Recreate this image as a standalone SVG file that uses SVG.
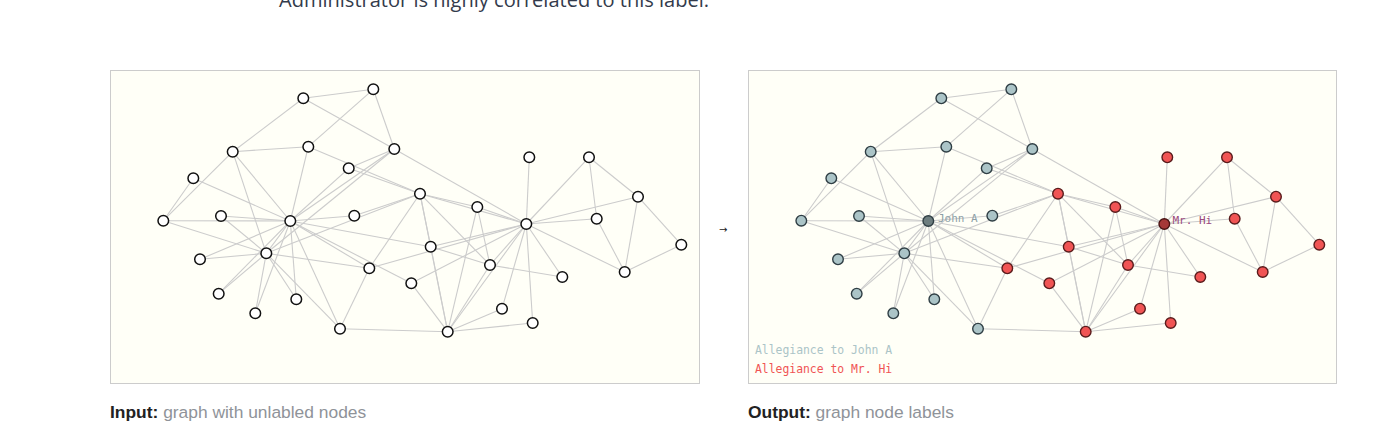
<svg xmlns="http://www.w3.org/2000/svg" width="1384" height="447" viewBox="0 0 1384 447">
<style>
.panel{fill:#fffff7;stroke:#cccccc;stroke-width:1}
.e line{stroke:#cccccc;stroke-width:1.1}
.nl{fill:#ffffff;stroke:#111111;stroke-width:1.5}
.nb{fill:#abc4c7;stroke:#2f3e44;stroke-width:1.4}
.nbh{fill:#6d7d7f;stroke:#2f3e44;stroke-width:1.4}
.nr{fill:#f05454;stroke:#5a1c1c;stroke-width:1.4}
.nrh{fill:#a53838;stroke:#4a1414;stroke-width:1.4}
.mono{font-family:"DejaVu Sans Mono","Liberation Mono",monospace;font-size:11px}
.leg{font-family:"DejaVu Sans Mono","Liberation Mono",monospace;font-size:11.4px}
.cap{font-family:"Liberation Sans",Arial,sans-serif;font-size:17.4px}
</style>
<rect width="1384" height="447" fill="#ffffff"/>
<text x="279" y="7" font-family="'Open Sans','Liberation Sans',sans-serif" font-size="20" fill="#333b4c" textLength="430" lengthAdjust="spacingAndGlyphs">Administrator is highly correlated to this label.</text>
<rect class="panel" x="110.5" y="70.5" width="589" height="313"/>
<rect class="panel" x="748.5" y="70.5" width="588" height="313"/>
<g id="connectors-input" class="e">
<line x1="526.3" y1="224" x2="447.7" y2="331.7"/><line x1="526.3" y1="224" x2="420" y2="193.7"/><line x1="526.3" y1="224" x2="490" y2="265"/><line x1="526.3" y1="224" x2="589" y2="157.3"/><line x1="526.3" y1="224" x2="624.7" y2="272"/><line x1="526.3" y1="224" x2="638" y2="196.7"/><line x1="526.3" y1="224" x2="477.3" y2="207"/><line x1="526.3" y1="224" x2="369.3" y2="268.3"/><line x1="526.3" y1="224" x2="596.7" y2="218.7"/><line x1="526.3" y1="224" x2="529.3" y2="157.3"/><line x1="526.3" y1="224" x2="562.3" y2="277"/><line x1="526.3" y1="224" x2="430.7" y2="246.7"/><line x1="526.3" y1="224" x2="502" y2="308.7"/><line x1="526.3" y1="224" x2="411.3" y2="283.3"/><line x1="526.3" y1="224" x2="532.7" y2="323"/><line x1="526.3" y1="224" x2="394.3" y2="149"/>
<line x1="447.7" y1="331.7" x2="420" y2="193.7"/><line x1="447.7" y1="331.7" x2="490" y2="265"/><line x1="447.7" y1="331.7" x2="477.3" y2="207"/><line x1="447.7" y1="331.7" x2="430.7" y2="246.7"/><line x1="447.7" y1="331.7" x2="502" y2="308.7"/><line x1="447.7" y1="331.7" x2="411.3" y2="283.3"/><line x1="447.7" y1="331.7" x2="532.7" y2="323"/><line x1="447.7" y1="331.7" x2="340" y2="328.7"/>
<line x1="420" y1="193.7" x2="490" y2="265"/><line x1="420" y1="193.7" x2="477.3" y2="207"/><line x1="420" y1="193.7" x2="369.3" y2="268.3"/><line x1="420" y1="193.7" x2="354.3" y2="215.7"/><line x1="420" y1="193.7" x2="430.7" y2="246.7"/><line x1="420" y1="193.7" x2="308.3" y2="146.7"/><line x1="420" y1="193.7" x2="348.7" y2="168.3"/><line x1="420" y1="193.7" x2="266.3" y2="253.3"/>
<line x1="490" y1="265" x2="477.3" y2="207"/><line x1="490" y1="265" x2="562.3" y2="277"/><line x1="490" y1="265" x2="430.7" y2="246.7"/>
<line x1="589" y1="157.3" x2="638" y2="196.7"/><line x1="589" y1="157.3" x2="596.7" y2="218.7"/><line x1="624.7" y1="272" x2="638" y2="196.7"/><line x1="624.7" y1="272" x2="596.7" y2="218.7"/><line x1="624.7" y1="272" x2="681.3" y2="244.7"/><line x1="638" y1="196.7" x2="681.3" y2="244.7"/>
<line x1="369.3" y1="268.3" x2="340" y2="328.7"/><line x1="369.3" y1="268.3" x2="266.3" y2="253.3"/><line x1="369.3" y1="268.3" x2="290.3" y2="221"/><line x1="354.3" y1="215.7" x2="290.3" y2="221"/><line x1="430.7" y1="246.7" x2="290.3" y2="221"/>
<line x1="200" y1="259.3" x2="266.3" y2="253.3"/><line x1="200" y1="259.3" x2="290.3" y2="221"/><line x1="218.7" y1="293.7" x2="266.3" y2="253.3"/><line x1="218.7" y1="293.7" x2="290.3" y2="221"/><line x1="255.3" y1="313.3" x2="266.3" y2="253.3"/><line x1="255.3" y1="313.3" x2="290.3" y2="221"/><line x1="296.3" y1="299.3" x2="266.3" y2="253.3"/><line x1="296.3" y1="299.3" x2="290.3" y2="221"/><line x1="221" y1="216" x2="266.3" y2="253.3"/><line x1="221" y1="216" x2="290.3" y2="221"/>
<line x1="411.3" y1="283.3" x2="290.3" y2="221"/>
<line x1="232.7" y1="151.7" x2="303.3" y2="98.3"/><line x1="232.7" y1="151.7" x2="308.3" y2="146.7"/><line x1="232.7" y1="151.7" x2="163.3" y2="220.7"/><line x1="232.7" y1="151.7" x2="266.3" y2="253.3"/><line x1="232.7" y1="151.7" x2="290.3" y2="221"/>
<line x1="373.3" y1="89.3" x2="303.3" y2="98.3"/><line x1="373.3" y1="89.3" x2="308.3" y2="146.7"/><line x1="373.3" y1="89.3" x2="394.3" y2="149"/><line x1="303.3" y1="98.3" x2="394.3" y2="149"/>
<line x1="193.3" y1="178.3" x2="163.3" y2="220.7"/><line x1="193.3" y1="178.3" x2="290.3" y2="221"/><line x1="308.3" y1="146.7" x2="290.3" y2="221"/><line x1="348.7" y1="168.3" x2="394.3" y2="149"/><line x1="348.7" y1="168.3" x2="290.3" y2="221"/>
<line x1="163.3" y1="220.7" x2="266.3" y2="253.3"/><line x1="163.3" y1="220.7" x2="290.3" y2="221"/><line x1="340" y1="328.7" x2="266.3" y2="253.3"/><line x1="340" y1="328.7" x2="290.3" y2="221"/><line x1="394.3" y1="149" x2="266.3" y2="253.3"/><line x1="394.3" y1="149" x2="290.3" y2="221"/><line x1="266.3" y1="253.3" x2="290.3" y2="221"/>
</g>
<g id="connectors-output" class="e" transform="translate(638,0)">
<line x1="526.3" y1="224" x2="447.7" y2="331.7"/><line x1="526.3" y1="224" x2="420" y2="193.7"/><line x1="526.3" y1="224" x2="490" y2="265"/><line x1="526.3" y1="224" x2="589" y2="157.3"/><line x1="526.3" y1="224" x2="624.7" y2="272"/><line x1="526.3" y1="224" x2="638" y2="196.7"/><line x1="526.3" y1="224" x2="477.3" y2="207"/><line x1="526.3" y1="224" x2="369.3" y2="268.3"/><line x1="526.3" y1="224" x2="596.7" y2="218.7"/><line x1="526.3" y1="224" x2="529.3" y2="157.3"/><line x1="526.3" y1="224" x2="562.3" y2="277"/><line x1="526.3" y1="224" x2="430.7" y2="246.7"/><line x1="526.3" y1="224" x2="502" y2="308.7"/><line x1="526.3" y1="224" x2="411.3" y2="283.3"/><line x1="526.3" y1="224" x2="532.7" y2="323"/><line x1="526.3" y1="224" x2="394.3" y2="149"/>
<line x1="447.7" y1="331.7" x2="420" y2="193.7"/><line x1="447.7" y1="331.7" x2="490" y2="265"/><line x1="447.7" y1="331.7" x2="477.3" y2="207"/><line x1="447.7" y1="331.7" x2="430.7" y2="246.7"/><line x1="447.7" y1="331.7" x2="502" y2="308.7"/><line x1="447.7" y1="331.7" x2="411.3" y2="283.3"/><line x1="447.7" y1="331.7" x2="532.7" y2="323"/><line x1="447.7" y1="331.7" x2="340" y2="328.7"/>
<line x1="420" y1="193.7" x2="490" y2="265"/><line x1="420" y1="193.7" x2="477.3" y2="207"/><line x1="420" y1="193.7" x2="369.3" y2="268.3"/><line x1="420" y1="193.7" x2="354.3" y2="215.7"/><line x1="420" y1="193.7" x2="430.7" y2="246.7"/><line x1="420" y1="193.7" x2="308.3" y2="146.7"/><line x1="420" y1="193.7" x2="348.7" y2="168.3"/><line x1="420" y1="193.7" x2="266.3" y2="253.3"/>
<line x1="490" y1="265" x2="477.3" y2="207"/><line x1="490" y1="265" x2="562.3" y2="277"/><line x1="490" y1="265" x2="430.7" y2="246.7"/>
<line x1="589" y1="157.3" x2="638" y2="196.7"/><line x1="589" y1="157.3" x2="596.7" y2="218.7"/><line x1="624.7" y1="272" x2="638" y2="196.7"/><line x1="624.7" y1="272" x2="596.7" y2="218.7"/><line x1="624.7" y1="272" x2="681.3" y2="244.7"/><line x1="638" y1="196.7" x2="681.3" y2="244.7"/>
<line x1="369.3" y1="268.3" x2="340" y2="328.7"/><line x1="369.3" y1="268.3" x2="266.3" y2="253.3"/><line x1="369.3" y1="268.3" x2="290.3" y2="221"/><line x1="354.3" y1="215.7" x2="290.3" y2="221"/><line x1="430.7" y1="246.7" x2="290.3" y2="221"/>
<line x1="200" y1="259.3" x2="266.3" y2="253.3"/><line x1="200" y1="259.3" x2="290.3" y2="221"/><line x1="218.7" y1="293.7" x2="266.3" y2="253.3"/><line x1="218.7" y1="293.7" x2="290.3" y2="221"/><line x1="255.3" y1="313.3" x2="266.3" y2="253.3"/><line x1="255.3" y1="313.3" x2="290.3" y2="221"/><line x1="296.3" y1="299.3" x2="266.3" y2="253.3"/><line x1="296.3" y1="299.3" x2="290.3" y2="221"/><line x1="221" y1="216" x2="266.3" y2="253.3"/><line x1="221" y1="216" x2="290.3" y2="221"/>
<line x1="411.3" y1="283.3" x2="290.3" y2="221"/>
<line x1="232.7" y1="151.7" x2="303.3" y2="98.3"/><line x1="232.7" y1="151.7" x2="308.3" y2="146.7"/><line x1="232.7" y1="151.7" x2="163.3" y2="220.7"/><line x1="232.7" y1="151.7" x2="266.3" y2="253.3"/><line x1="232.7" y1="151.7" x2="290.3" y2="221"/>
<line x1="373.3" y1="89.3" x2="303.3" y2="98.3"/><line x1="373.3" y1="89.3" x2="308.3" y2="146.7"/><line x1="373.3" y1="89.3" x2="394.3" y2="149"/><line x1="303.3" y1="98.3" x2="394.3" y2="149"/>
<line x1="193.3" y1="178.3" x2="163.3" y2="220.7"/><line x1="193.3" y1="178.3" x2="290.3" y2="221"/><line x1="308.3" y1="146.7" x2="290.3" y2="221"/><line x1="348.7" y1="168.3" x2="394.3" y2="149"/><line x1="348.7" y1="168.3" x2="290.3" y2="221"/>
<line x1="163.3" y1="220.7" x2="266.3" y2="253.3"/><line x1="163.3" y1="220.7" x2="290.3" y2="221"/><line x1="340" y1="328.7" x2="266.3" y2="253.3"/><line x1="340" y1="328.7" x2="290.3" y2="221"/><line x1="394.3" y1="149" x2="266.3" y2="253.3"/><line x1="394.3" y1="149" x2="290.3" y2="221"/><line x1="266.3" y1="253.3" x2="290.3" y2="221"/>
</g>
<g id="input-nodes">
<g id="in-0"><circle class="nl" cx="526.3" cy="224" r="5.3"/></g>
<g id="in-1"><circle class="nl" cx="447.7" cy="331.7" r="5.3"/></g>
<g id="in-2"><circle class="nl" cx="420" cy="193.7" r="5.3"/></g>
<g id="in-3"><circle class="nl" cx="490" cy="265" r="5.3"/></g>
<g id="in-4"><circle class="nl" cx="589" cy="157.3" r="5.3"/></g>
<g id="in-5"><circle class="nl" cx="624.7" cy="272" r="5.3"/></g>
<g id="in-6"><circle class="nl" cx="638" cy="196.7" r="5.3"/></g>
<g id="in-7"><circle class="nl" cx="477.3" cy="207" r="5.3"/></g>
<g id="in-8"><circle class="nl" cx="369.3" cy="268.3" r="5.3"/></g>
<g id="in-9"><circle class="nl" cx="354.3" cy="215.7" r="5.3"/></g>
<g id="in-10"><circle class="nl" cx="596.7" cy="218.7" r="5.3"/></g>
<g id="in-11"><circle class="nl" cx="529.3" cy="157.3" r="5.3"/></g>
<g id="in-12"><circle class="nl" cx="562.3" cy="277" r="5.3"/></g>
<g id="in-13"><circle class="nl" cx="430.7" cy="246.7" r="5.3"/></g>
<g id="in-14"><circle class="nl" cx="200" cy="259.3" r="5.3"/></g>
<g id="in-15"><circle class="nl" cx="218.7" cy="293.7" r="5.3"/></g>
<g id="in-16"><circle class="nl" cx="681.3" cy="244.7" r="5.3"/></g>
<g id="in-17"><circle class="nl" cx="502" cy="308.7" r="5.3"/></g>
<g id="in-18"><circle class="nl" cx="255.3" cy="313.3" r="5.3"/></g>
<g id="in-19"><circle class="nl" cx="411.3" cy="283.3" r="5.3"/></g>
<g id="in-20"><circle class="nl" cx="296.3" cy="299.3" r="5.3"/></g>
<g id="in-21"><circle class="nl" cx="532.7" cy="323" r="5.3"/></g>
<g id="in-22"><circle class="nl" cx="221" cy="216" r="5.3"/></g>
<g id="in-23"><circle class="nl" cx="232.7" cy="151.7" r="5.3"/></g>
<g id="in-24"><circle class="nl" cx="373.3" cy="89.3" r="5.3"/></g>
<g id="in-25"><circle class="nl" cx="303.3" cy="98.3" r="5.3"/></g>
<g id="in-26"><circle class="nl" cx="193.3" cy="178.3" r="5.3"/></g>
<g id="in-27"><circle class="nl" cx="308.3" cy="146.7" r="5.3"/></g>
<g id="in-28"><circle class="nl" cx="348.7" cy="168.3" r="5.3"/></g>
<g id="in-29"><circle class="nl" cx="163.3" cy="220.7" r="5.3"/></g>
<g id="in-30"><circle class="nl" cx="340" cy="328.7" r="5.3"/></g>
<g id="in-31"><circle class="nl" cx="394.3" cy="149" r="5.3"/></g>
<g id="in-32"><circle class="nl" cx="266.3" cy="253.3" r="5.3"/></g>
<g id="in-33"><circle class="nl" cx="290.3" cy="221" r="5.3"/></g>
</g>
<g id="output-nodes" transform="translate(638,0)">
<g id="out-0"><circle class="nrh" cx="526.3" cy="224" r="5.3"/><text class="mono" x="534.5" y="223.5" fill="#9a4a7e">Mr. Hi</text></g>
<g id="out-1"><circle class="nr" cx="447.7" cy="331.7" r="5.3"/></g>
<g id="out-2"><circle class="nr" cx="420" cy="193.7" r="5.3"/></g>
<g id="out-3"><circle class="nr" cx="490" cy="265" r="5.3"/></g>
<g id="out-4"><circle class="nr" cx="589" cy="157.3" r="5.3"/></g>
<g id="out-5"><circle class="nr" cx="624.7" cy="272" r="5.3"/></g>
<g id="out-6"><circle class="nr" cx="638" cy="196.7" r="5.3"/></g>
<g id="out-7"><circle class="nr" cx="477.3" cy="207" r="5.3"/></g>
<g id="out-8"><circle class="nr" cx="369.3" cy="268.3" r="5.3"/></g>
<g id="out-9"><circle class="nb" cx="354.3" cy="215.7" r="5.3"/></g>
<g id="out-10"><circle class="nr" cx="596.7" cy="218.7" r="5.3"/></g>
<g id="out-11"><circle class="nr" cx="529.3" cy="157.3" r="5.3"/></g>
<g id="out-12"><circle class="nr" cx="562.3" cy="277" r="5.3"/></g>
<g id="out-13"><circle class="nr" cx="430.7" cy="246.7" r="5.3"/></g>
<g id="out-14"><circle class="nb" cx="200" cy="259.3" r="5.3"/></g>
<g id="out-15"><circle class="nb" cx="218.7" cy="293.7" r="5.3"/></g>
<g id="out-16"><circle class="nr" cx="681.3" cy="244.7" r="5.3"/></g>
<g id="out-17"><circle class="nr" cx="502" cy="308.7" r="5.3"/></g>
<g id="out-18"><circle class="nb" cx="255.3" cy="313.3" r="5.3"/></g>
<g id="out-19"><circle class="nr" cx="411.3" cy="283.3" r="5.3"/></g>
<g id="out-20"><circle class="nb" cx="296.3" cy="299.3" r="5.3"/></g>
<g id="out-21"><circle class="nr" cx="532.7" cy="323" r="5.3"/></g>
<g id="out-22"><circle class="nb" cx="221" cy="216" r="5.3"/></g>
<g id="out-23"><circle class="nb" cx="232.7" cy="151.7" r="5.3"/></g>
<g id="out-24"><circle class="nb" cx="373.3" cy="89.3" r="5.3"/></g>
<g id="out-25"><circle class="nb" cx="303.3" cy="98.3" r="5.3"/></g>
<g id="out-26"><circle class="nb" cx="193.3" cy="178.3" r="5.3"/></g>
<g id="out-27"><circle class="nb" cx="308.3" cy="146.7" r="5.3"/></g>
<g id="out-28"><circle class="nb" cx="348.7" cy="168.3" r="5.3"/></g>
<g id="out-29"><circle class="nb" cx="163.3" cy="220.7" r="5.3"/></g>
<g id="out-30"><circle class="nb" cx="340" cy="328.7" r="5.3"/></g>
<g id="out-31"><circle class="nb" cx="394.3" cy="149" r="5.3"/></g>
<g id="out-32"><circle class="nb" cx="266.3" cy="253.3" r="5.3"/></g>
<g id="out-33"><circle class="nbh" cx="290.3" cy="221" r="5.3"/><text class="mono" x="300" y="222" fill="#8d9fa6">John A</text></g>
</g>
<g id="legend">
<text class="leg" x="755" y="354" fill="#abc4c7">Allegiance to John A</text>
<text class="leg" x="755" y="373" fill="#f05454">Allegiance to Mr. Hi</text>
</g>
<text x="719" y="233" font-family="'DejaVu Sans',sans-serif" font-size="10" fill="#222222">→</text>
<g id="captions">
<text class="cap" x="110" y="418"><tspan font-weight="bold" fill="#222222">Input:</tspan><tspan fill="#8f9399"> graph with unlabled nodes</tspan></text>
<text class="cap" x="748" y="418"><tspan font-weight="bold" fill="#222222">Output:</tspan><tspan fill="#8f9399"> graph node labels</tspan></text>
</g>
</svg>
